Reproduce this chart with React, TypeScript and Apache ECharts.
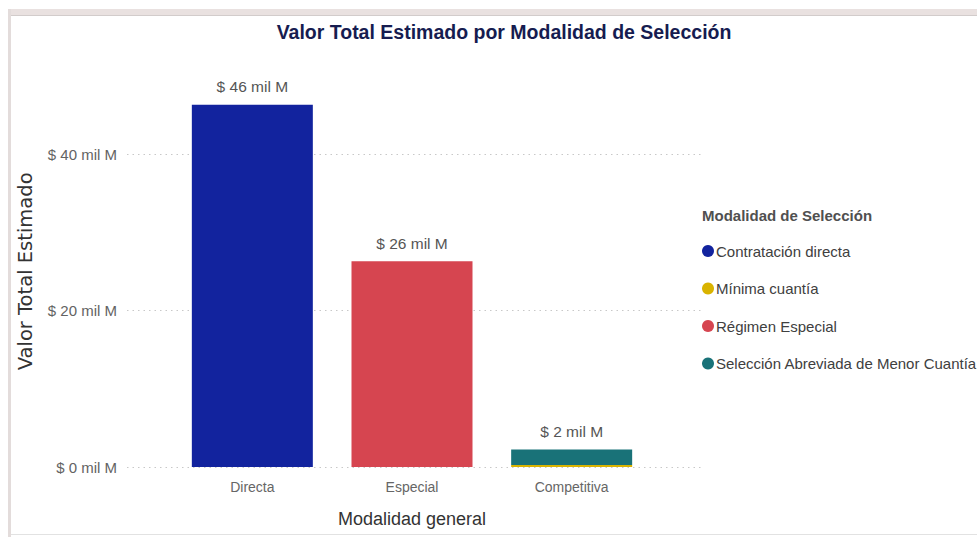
import React, { useEffect, useRef } from "react";
import * as echarts from "echarts";

const categories = ["Directa", "Especial", "Competitiva"];
const seriesNames = [
  "Contratación directa",
  "Mínima cuantía",
  "Régimen Especial",
  "Selección Abreviada de Menor Cuantía",
];
const contratacionDirecta = [46.3, 0, 0];
const minimaCuantia = [0, 0, 0.25];
const regimenEspecial = [0, 26.3, 0];
const seleccionAbreviada = [0, 0, 2.0];
const yTicks = [0, 20, 40];

const colors = ["#12239E", "#D9B300", "#D64550", "#197278"];
const FONT = "'Liberation Sans', Arial, sans-serif";

export default function App() {
  const ref = useRef<HTMLDivElement>(null);
  useEffect(() => {
    document.body.style.margin = "0";
    const chart = echarts.init(ref.current!, null, { renderer: "svg" });
    const values = [contratacionDirecta, minimaCuantia, regimenEspecial, seleccionAbreviada];
    const totals = categories.map((_, i) => values.reduce((s, arr) => s + arr[i], 0));
    const yMin = 0;
    const yMax = 50;
    const top = 75.75;
    const bottom = 70;
    const barSeries = seriesNames.map((name, k) => ({
      name,
      type: "bar",
      stack: "total",
      xAxisIndex: 1,
      yAxisIndex: 1,
      barWidth: 121,
      data: values[k].map((v) => (v === 0 ? null : v)),
      itemStyle: { color: colors[k] },
    }));
    chart.setOption({
      animation: false,
      backgroundColor: "#ffffff",
      title: {
        text: "Valor Total Estimado por Modalidad de Selección",
        left: 499,
        textAlign: "center",
        top: 17,
        textStyle: { fontFamily: FONT, fontWeight: "bold", fontSize: 19.5, color: "#161c50" },
      },
      legend: {
        orient: "vertical",
        left: 702,
        top: 243.5,
        padding: 0,
        itemWidth: 12,
        itemHeight: 12,
        itemGap: 22.5,
        icon: "circle",
        data: seriesNames,
        textStyle: { fontFamily: FONT, fontSize: 15, color: "#404040", padding: [0, 0, 0, -3] },
      },
      graphic: [
        { type: "rect", shape: { x: 8, y: 9, width: 969, height: 6 }, style: { fill: "#e9e1e0" } },
        { type: "rect", shape: { x: 8, y: 15, width: 969, height: 1 }, style: { fill: "#d2cccb" } },
        { type: "rect", shape: { x: 8, y: 9, width: 3, height: 528 }, style: { fill: "#e3dcdb" } },
        { type: "rect", shape: { x: 11, y: 534, width: 966, height: 1 }, style: { fill: "#e2e2e2" } },
        {
          type: "text",
          left: 702,
          top: 208,
          style: {
            text: "Modalidad de Selección",
            fontFamily: FONT,
            fontWeight: "bold",
            fontSize: 15,
            fill: "#505050",
          },
        },
      ],
      grid: [
        { left: 127, right: 273, top, bottom, outerBoundsMode: "none" },
        { left: 172.5, right: 325.5, top, bottom, outerBoundsMode: "none" },
      ],
      xAxis: [
        { type: "category", gridIndex: 0, data: [""], show: false },
        {
          type: "category",
          gridIndex: 1,
          data: categories,
          axisLine: { show: false },
          axisTick: { show: false },
          axisLabel: { fontFamily: FONT, fontSize: 14, color: "#666666", margin: 13 },
          name: "Modalidad general",
          nameLocation: "middle",
          nameGap: 43,
          nameTextStyle: { fontFamily: FONT, fontSize: 18, color: "#333333" },
        },
      ],
      yAxis: [
        {
          type: "value",
          gridIndex: 0,
          min: yMin,
          max: yMax,
          interval: 20,
          axisLine: { show: false },
          axisTick: { show: false },
          axisLabel: {
            fontFamily: FONT,
            fontSize: 15,
            color: "#636363",
            margin: 10,
            showMaxLabel: false,
            formatter: (v: number) => (yTicks.includes(v) ? `$ ${v} mil M` : ""),
          },
          splitLine: {
            show: true,
            showMaxLine: false,
            lineStyle: { color: "#c8c8c8", type: [1.5, 4], width: 1 },
          },
          name: "Valor Total Estimado",
          nameLocation: "middle",
          nameGap: 92,
          nameTextStyle: { fontFamily: "'DejaVu Sans', sans-serif", fontSize: 19.5, color: "#333333" },
        },
        { type: "value", gridIndex: 1, min: yMin, max: yMax, interval: 20, show: false, splitLine: { show: false } },
      ],
      series: [
        ...barSeries,
        {
          name: "total",
          type: "bar",
          stack: "total",
          xAxisIndex: 1,
          yAxisIndex: 1,
          barWidth: 121,
          data: categories.map(() => 0),
          itemStyle: { color: "transparent" },
          label: {
            show: true,
            position: "top",
            distance: 10,
            fontFamily: FONT,
            fontSize: 15.5,
            color: "#555555",
            formatter: (p: any) => `$ ${Math.round(totals[p.dataIndex])} mil M`,
          },
        },
      ],
    });
    return () => chart.dispose();
  }, []);
  return <div ref={ref} style={{ width: 977, height: 537 }} />;
}
